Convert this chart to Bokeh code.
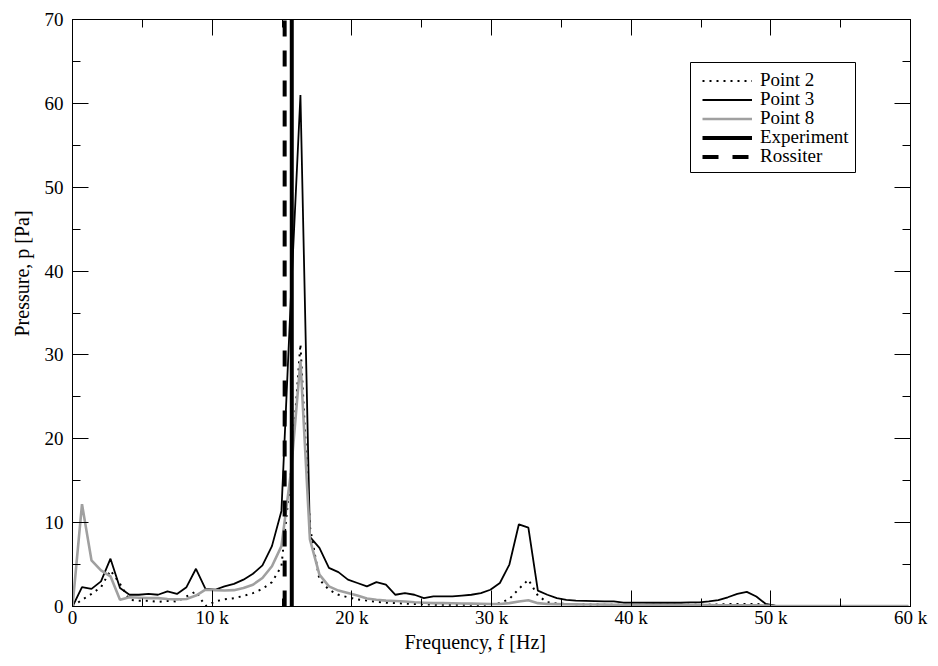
from bokeh.plotting import figure
from bokeh.models import (Legend, LegendItem, LinearAxis, FixedTicker, Range1d,
                          BoxAnnotation, Title)
from bokeh.embed import file_html
from bokeh.resources import INLINE

# Frequency grid in kHz
freq_khz = [0, 0.68, 1.36, 2.04, 2.72, 3.40, 4.08, 4.76, 5.44, 6.12, 6.80, 7.48, 8.16, 8.84,
            9.52, 10.20, 10.88, 11.56, 12.24, 12.92, 13.60, 14.28, 14.96, 15.64, 16.32, 17.00,
            17.68, 18.36, 19.04, 19.72, 20.40, 21.08, 21.76, 22.44, 23.12, 23.80, 24.48, 25.16,
            25.84, 26.52, 27.20, 27.88, 28.56, 29.24, 29.92, 30.60, 31.28, 31.96, 32.64, 33.32,
            34.00, 34.68, 35.36, 36.04, 36.72, 37.40, 38.08, 38.76, 39.44, 40.12, 40.80, 41.48,
            42.16, 42.84, 43.52, 44.20, 44.88, 45.56, 46.24, 46.92, 47.60, 48.28, 48.96, 49.64,
            50.32, 51.00, 51.68, 52.36, 53.04, 53.72, 54.40, 55.08, 55.76, 56.44, 57.12, 57.80,
            58.48, 59.16, 59.84]

point2 = [0, 0.8, 1.5, 2.3, 4.3, 2.7, 0.8, 0.7, 0.7, 0.55, 0.65, 0.6, 1.2, 1.8,
          0.05, 0.6, 0.85, 1.0, 1.25, 1.6, 2.1, 2.9, 4.8, 16.0, 31.3, 9.5,
          3.2, 2.0, 1.4, 1.1, 0.85, 0.7, 0.55, 0.45, 0.4, 0.35, 0.3, 0.25,
          0.22, 0.2, 0.2, 0.2, 0.2, 0.2, 0.25, 0.4, 0.9, 2.1, 3.2, 1.3,
          0.5, 0.35, 0.3, 0.28, 0.25, 0.25, 0.22, 0.2, 0.2, 0.2, 0.2, 0.2,
          0.2, 0.2, 0.2, 0.2, 0.2, 0.22, 0.25, 0.28, 0.3, 0.3, 0.3, 0.2,
          0.05, 0.04, 0.04, 0.04, 0.04, 0.04, 0.04, 0.04, 0.04, 0.04, 0.04, 0.04,
          0.04, 0.04, 0.04]

point3 = [0, 2.3, 2.1, 3.0, 5.7, 2.2, 1.4, 1.4, 1.5, 1.4, 1.8, 1.5, 2.3, 4.5,
          2.1, 2.0, 2.4, 2.7, 3.2, 3.9, 4.9, 7.2, 11.4, 37.0, 61.0, 8.3,
          7.0, 4.6, 4.1, 3.2, 2.8, 2.4, 2.9, 2.6, 1.4, 1.6, 1.4, 1.0,
          1.2, 1.2, 1.2, 1.3, 1.4, 1.6, 2.0, 2.8, 5.0, 9.8, 9.4, 1.9,
          1.4, 1.0, 0.8, 0.7, 0.68, 0.65, 0.62, 0.6, 0.45, 0.45, 0.45, 0.45,
          0.45, 0.45, 0.45, 0.5, 0.5, 0.6, 0.75, 1.1, 1.5, 1.75, 1.2, 0.3,
          0.1, 0.08, 0.08, 0.07, 0.07, 0.07, 0.06, 0.06, 0.06, 0.06, 0.05, 0.05,
          0.05, 0.05, 0.05]

point8 = [0, 12.2, 5.5, 4.3, 3.6, 0.8, 1.1, 1.05, 1.0, 1.0, 0.9, 0.85, 0.9, 1.3,
          2.0, 1.95, 1.9, 1.95, 2.2, 2.6, 3.4, 4.8, 7.2, 16.0, 29.3, 8.0,
          3.8, 2.4, 1.9, 1.6, 1.3, 0.95, 0.8, 0.7, 0.65, 0.6, 0.5, 0.45,
          0.4, 0.4, 0.38, 0.36, 0.34, 0.32, 0.3, 0.3, 0.4, 0.6, 0.75, 0.4,
          0.3, 0.28, 0.26, 0.25, 0.24, 0.23, 0.22, 0.21, 0.2, 0.2, 0.19, 0.18,
          0.18, 0.17, 0.17, 0.16, 0.16, 0.16, 0.15, 0.15, 0.15, 0.15, 0.14, 0.1,
          0.06, 0.05, 0.05, 0.05, 0.05, 0.05, 0.05, 0.05, 0.05, 0.05, 0.05, 0.05,
          0.05, 0.05, 0.05]

experiment_khz = 15.70
rossiter_khz = 15.19

x_major = [0, 10, 20, 30, 40, 50, 60]
x_minor = [5, 15, 25, 35, 45, 55]
x_tick_labels = ["0", "10 k", "20 k", "30 k", "40 k", "50 k", "60 k"]
y_major = [0, 10, 20, 30, 40, 50, 60, 70]
y_minor = [5, 15, 25, 35, 45, 55, 65]
x_limits = (0, 60)
y_limits = (0, 70)
x_title = "Frequency, f [Hz]"
y_title = "Pressure, p [Pa]"
legend_labels = ["Point 2", "Point 3", "Point 8", "Experiment", "Rossiter"]

FONT = "'Liberation Serif', 'Times New Roman', Times, serif"
FS = "19px"
FS_TITLE = "20px"

p = figure(width=930, height=658, output_backend="svg", toolbar_location=None,
           x_range=Range1d(*x_limits), y_range=Range1d(*y_limits),
           min_border_left=72, min_border_right=20, min_border_top=19, min_border_bottom=52)
p.background_fill_color = "white"
p.border_fill_color = "white"
p.outline_line_color = "black"
p.grid.visible = False

r2 = p.line(freq_khz, point2, line_color="black", line_width=2, line_dash="2 5")
r3 = p.line(freq_khz, point3, line_color="black", line_width=1.8)
r8 = p.line(freq_khz, point8, line_color="#a0a0a0", line_width=2.6)
rexp = p.segment(x0=[experiment_khz], y0=[y_limits[0]], x1=[experiment_khz], y1=[y_limits[1]],
                 line_color="black", line_width=4)
rros = p.segment(x0=[rossiter_khz], y0=[y_limits[0]], x1=[rossiter_khz], y1=[y_limits[1]],
                 line_color="black", line_width=4, line_dash="16 14")

xt = FixedTicker(ticks=x_major, minor_ticks=x_minor)
yt = FixedTicker(ticks=y_major, minor_ticks=y_minor)


def style(ax):
    ax.major_tick_in = 16
    ax.major_tick_out = 0
    ax.minor_tick_in = 8
    ax.minor_tick_out = 0
    ax.axis_line_color = "black"
    ax.major_tick_line_color = "black"
    ax.minor_tick_line_color = "black"
    ax.major_label_text_font = FONT
    ax.major_label_text_color = "black"
    ax.major_label_text_font_size = FS


xa = p.xaxis[0]
xa.ticker = xt
xa.major_label_overrides = {t: s for t, s in zip(x_major, x_tick_labels)}
style(xa)
xa.major_label_standoff = 0

ya = p.yaxis[0]
ya.ticker = yt
style(ya)
ya.major_label_standoff = 9

top = LinearAxis(ticker=xt)
style(top)
top.major_label_overrides = {t: "" for t in x_major}
top.major_label_text_font_size = "1px"
top.major_label_standoff = 0
p.add_layout(top, "above")
right = LinearAxis(ticker=yt)
style(right)
right.major_label_overrides = {t: "" for t in y_major}
right.major_label_text_font_size = "1px"
right.major_label_standoff = 0
p.add_layout(right, "right")

# Axis titles, off-centre as in the original
xtitle = Title(text=x_title, align="left", offset=332, standoff=0, vertical_align="top",
               text_font=FONT, text_font_size=FS_TITLE, text_font_style="normal",
               text_color="black")
p.add_layout(xtitle, "below")
ytitle = Title(text=y_title, align="left", offset=270, standoff=13, vertical_align="top",
               text_font=FONT, text_font_size=FS_TITLE, text_font_style="normal",
               text_color="black")
p.add_layout(ytitle, "left")

# Legend: framed box plus one single-item legend per row (19 px row pitch)
box = BoxAnnotation(left=618, right=783, bottom=434, top=544,
                    left_units="screen", right_units="screen",
                    bottom_units="screen", top_units="screen",
                    fill_color="white", fill_alpha=1.0,
                    line_color="black", line_width=1, line_alpha=1.0)
p.add_layout(box)

row_pitch = 19
first_row_bottom = 515
for i, (lab, rend) in enumerate(zip(legend_labels, [r2, r3, r8, rexp, rros])):
    lg = Legend(items=[LegendItem(label=lab, renderers=[rend])],
                location=(630, first_row_bottom - i * row_pitch))
    lg.label_text_font = FONT
    lg.label_text_font_size = FS
    lg.label_text_color = "black"
    lg.glyph_width = 50
    lg.glyph_height = 19
    lg.label_height = 19
    lg.padding = 0
    lg.margin = 0
    lg.spacing = 0
    lg.label_standoff = 8
    lg.border_line_alpha = 0
    lg.background_fill_alpha = 0
    p.add_layout(lg, "center")

open("out.html", "w").write(file_html(p, INLINE))
